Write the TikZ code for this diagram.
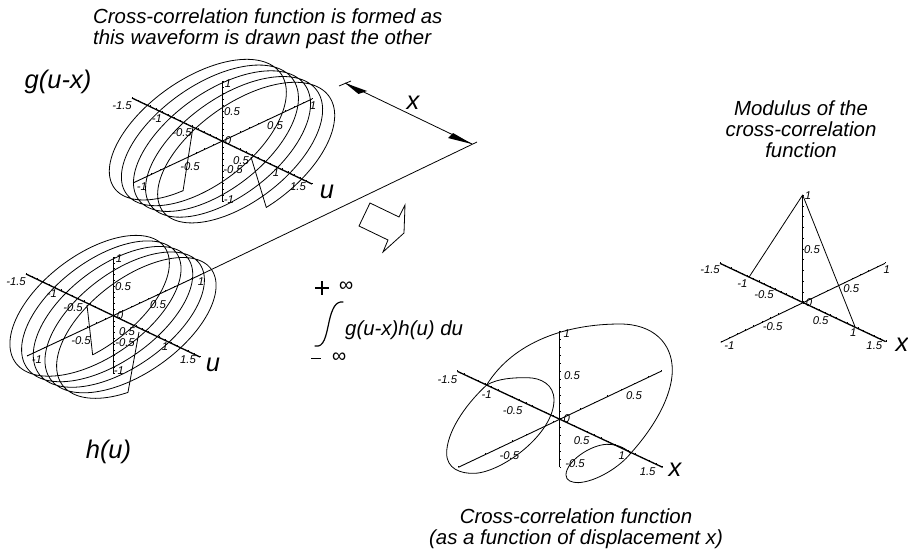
\documentclass[tikz,border=0pt]{standalone}
\usepackage{fontspec}
\setmainfont{Liberation Sans}
\tikzset{
 curve/.style={line width=0.8pt,black,line join=round},
 axisu/.style={line width=1.3pt,black},
 axisy/.style={line width=0.9pt,black},
 axisz/.style={line width=1.0pt,black},
 tickline/.style={line width=0.3pt,black},
 lab/.style={font=\fontsize{11.3}{12}\itshape\selectfont,inner sep=0pt},
 big/.style={font=\fontsize{20.4}{21}\itshape\selectfont,inner sep=0pt,align=center},
 huge/.style={font=\fontsize{25.5}{26}\itshape\selectfont,inner sep=0pt},
 inf/.style={font=\fontsize{20}{21}\itshape\selectfont,inner sep=0pt},
 thin line/.style={line width=0.8pt,black},
 head/.style={fill=black,draw=none},
}
% #1,#2 start; #3,#4 end; #5 intervals; #6,#7 tick vector
\newcommand{\axticks}[7]{%
 \foreach \i in {0,...,#5}
  \draw[tickline] ({#1+(#3-#1)/#5*\i},{#2+(#4-#2)/#5*\i}) -- ++(#6,#7);
}
\begin{document}
\begin{tikzpicture}[x=1pt,y=-1pt]
\useasboundingbox (0,0) rectangle (908,554);
% ---- plot 1
\draw[axisu] (132,98) -- (312,184);
\draw[axisy] (133,183) -- (312,99);
\draw[axisz] (222,81) -- (222,201);
\axticks{132}{98}{312}{184}{30}{0}{-1.2}
\axticks{133}{183}{312}{99}{20}{0}{-1.2}
\axticks{222}{81}{222}{201}{20}{1.5}{0}
\draw[curve] (193,127) -- plot[domain=-0.5:0.5,samples=301,smooth,variable=\u]
 ({222+60*\u+0.95*sin(1788*\u)*90},{142+28.5*\u-0.95*sin(1788*\u)*43-cos(1788*\u)*59}) -- (251,157);
\foreach \p/\t in {{(122,106)}/-1.5,{(157,119)}/-1,{(182,133)}/-0.5,{(190,167)}/-0.5,{(275,126)}/0.5,{(232,112)}/0.5,{(228,84)}/1,{(228,141)}/0,{(241,161)}/0.5,{(233,170)}/-0.5,{(276,173)}/1,{(298,187)}/1.5,{(142,187)}/-1,{(313,106)}/1,{(229,200)}/-1}
 \node[lab] at \p {\t};
% ---- plot 2
\draw[axisu] (26,274) -- (200,357);
\draw[axisy] (27,356) -- (200,275);
\draw[axisz] (113,257) -- (113,373);
\axticks{26}{274}{200}{357}{30}{0}{-1.2}
\axticks{27}{356}{200}{275}{20}{0}{-1.2}
\axticks{113}{257}{113}{373}{20}{1.5}{0}
\draw[curve] (87,305) -- plot[domain=-0.5:0.5,samples=301,smooth,variable=\u]
 ({113+58*\u-0.95*sin(1788*\u)*87},{316+27.5*\u+0.95*sin(1788*\u)*41-cos(1788*\u)*57}) -- (139,332);
\foreach \p/\t in {{(16,282)}/-1.5,{(52,294)}/-1,{(73,308)}/-0.5,{(81,341)}/-0.5,{(158,305)}/0.5,{(123,287)}/0.5,{(119,259)}/1,{(120,316)}/0,{(127,332)}/0.5,{(125,343)}/-0.5,{(165,347)}/1,{(188,360)}/1.5,{(37,360)}/-1,{(201,282)}/1,{(119,371)}/-1}
 \node[lab] at \p {\t};
% ---- construction lines
\coordinate (hend) at (200,275);
\coordinate (lineend) at (477,142);
\draw[thin line] (hend) -- (lineend);
\coordinate (tA) at (339,86);
\coordinate (tB) at (351,81);
\coordinate (dimA) at (345,83);
\coordinate (dimB) at (472,144);
\draw[thin line] (tA) -- (tB);
\draw[thin line] (dimA) -- (dimB);
\fill[head] (dimA) -- (367,91) -- (358.5,94) -- cycle;
\fill[head] (dimB) -- (453,133) -- (448,138) -- cycle;
\node[huge] (xlab) at (413,103) {x};
% ---- block arrow
\draw[thin line,line join=miter] (370,203) -- (399,217) -- (405,205) -- (404,233) -- (383,252) -- (388,240) -- (359,226) -- cycle;
% ---- integral
\draw[line width=1.9pt] (315,288) -- (329,288) (322,281) -- (322,295);
\node[inf] (pinf) at (346,287) {\char"221E};
\draw[line width=1.2pt,line cap=round] (343,302) .. controls (336,301) and (332,308) .. (329,322) .. controls (326,336) and (324,348) .. (315,346);
\node[big,anchor=west] (integrand) at (345,330) {g(u-x)h(u) du};
\draw[line width=0.9pt] (311,358) -- (321,358);
\node[inf] (minf) at (339,358) {\char"221E};
% ---- plot 3
\begin{scope}[shift={(420,310)},x=0.3333pt,y=-0.3333pt]
\draw[axisu] (112,184) -- (728,472);
\draw[axisy] (115,472) -- (725,183);
\draw[axisz] (419,62) -- (419,470);
\axticks{112}{184}{728}{472}{30}{0}{-3.6}
\axticks{115}{472}{725}{183}{15}{0}{-3.6}
\axticks{419}{62}{419}{470}{17}{4.5}{0}
\draw[curve] (200,225) .. controls (130,290) and (80,370) .. (80,430) .. controls (80,475) and (120,492) .. (165,490) .. controls (250,485) and (402,370) .. (402,270) .. controls (402,225) and (365,203) .. (320,203) .. controls (280,203) and (235,205) .. (200,225) -- cycle;
\draw[curve] (200,225) .. controls (280,95) and (440,42) .. (600,42) .. controls (700,42) and (757,100) .. (757,180) .. controls (757,260) and (700,355) .. (632,430);
\draw[curve] (632,430) .. controls (610,410) and (590,403) .. (560,403) .. controls (510,405) and (438,455) .. (438,495) .. controls (438,512) and (455,518) .. (475,518) .. controls (530,515) and (600,470) .. (632,430) -- cycle;
\foreach \p/\t in {{(82,208)}/-1.5,{(200,253)}/-1,{(278,302)}/-0.5,{(268,438)}/-0.5,{(642,256)}/0.5,{(456,198)}/0.5,{(440,70)}/1,{(440,325)}/0,{(485,393)}/0.5,{(465,460)}/-0.5,{(605,438)}/1,{(683,486)}/1.5}
 \node[lab] at \p {\t};
\end{scope}
\node[huge] (x3) at (675,470) {x};
% ---- plot 4
\begin{scope}[shift={(690,180)},x=0.3333pt,y=-0.3333pt]
\draw[axisu] (90,250) -- (587,485);
\draw[axisy] (92,487) -- (585,250);
\draw[axisz] (338,45) -- (338,368);
\axticks{90}{250}{587}{485}{30}{0}{-3.6}
\axticks{92}{487}{585}{250}{20}{0}{-3.6}
\axticks{338}{45}{338}{368}{10}{4.5}{0}
\draw[curve] (178,290) -- (338,45) -- (495,440);
\foreach \p/\t in {{(60,270)}/-1.5,{(157,310)}/-1,{(222,345)}/-0.5,{(248,440)}/-0.5,{(484,325)}/0.5,{(366,208)}/0.5,{(354,47)}/1,{(357,368)}/0,{(392,423)}/0.5,{(118,497)}/-1,{(490,458)}/1,{(553,497)}/1.5,{(590,270)}/1}
 \node[lab] at \p {\t};
\end{scope}
\node[huge] (x4) at (902,345) {x};
% ---- titles
\node[big,align=left,anchor=north west] (t1) at (93,9) {Cross-correlation function is formed as\\this waveform is drawn past the other};
\node[huge] (g) at (58,82) {g(u-x)};
\node[huge] (u1) at (327,192) {u};
\node[huge] (u2) at (213,365) {u};
\node[huge] (h) at (108.5,452) {h(u)};
\node[big] (t2) at (801,129) {Modulus of the\\cross-correlation\\function};
\node[big] (t3) at (576,528.5) {Cross-correlation function\\(as a function of displacement x)};
\end{tikzpicture}
\end{document}
